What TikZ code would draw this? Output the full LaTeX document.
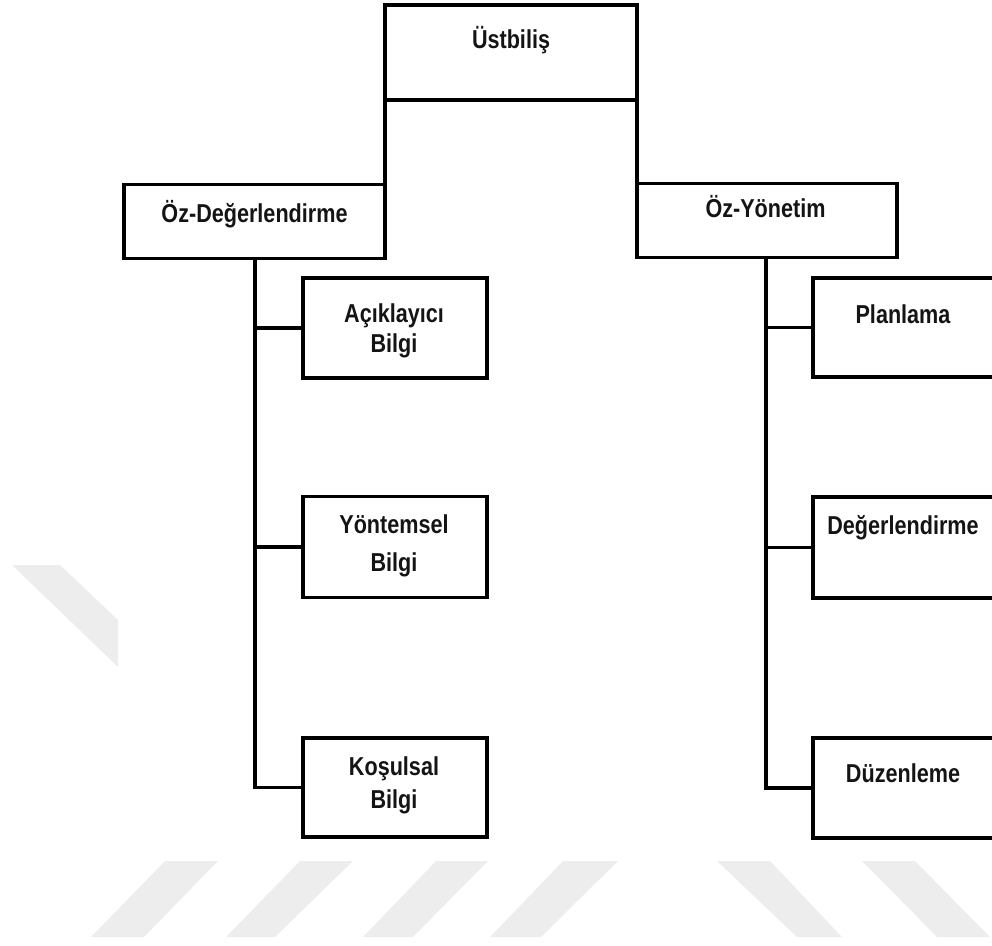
\documentclass[tikz,border=0pt]{standalone}
\usepackage{fontspec}
\setmainfont{Liberation Sans}
% taller, narrow-looking lettering
\newcommand{\tallword}[1]{\scalebox{1}[1.2]{#1}}
\begin{document}
\begin{tikzpicture}[x=1pt,y=-1pt,
  box/.style={draw=black, line width=3.5pt, rectangle, inner sep=0pt, outer sep=0pt},
  wire/.style={draw=black, line width=3.5pt, line cap=rect, line join=miter},
  txt/.style={font=\bfseries\fontsize{21.6}{26}\selectfont, anchor=base, inner sep=0pt, text=black!92},
  band/.style={fill=black!7, draw=none}]
\useasboundingbox (0,0) rectangle (992,945);
\clip (0,0) rectangle (992,945);

% light background stripes
\fill[band] (12,565) -- (60,565) -- (118,620) -- (118,667) -- cycle;
\fill[band] (165,861) -- (218,861) -- (144,937) -- (91,937) -- cycle;
\fill[band] (300,861) -- (353,861) -- (275,937) -- (226,937) -- cycle;
\fill[band] (436,861) -- (488,861) -- (413,937) -- (363,937) -- cycle;
\fill[band] (563,861) -- (618,861) -- (541,937) -- (490,937) -- cycle;
\fill[band] (717,861) -- (770,861) -- (842,937) -- (797,937) -- cycle;
\fill[band] (862,861) -- (915,861) -- (990,937) -- (937,937) -- cycle;

% boxes
\node[box, minimum width=252pt, minimum height=95pt] (top) at (511,52.5) {};
\node[box, minimum width=261pt, minimum height=74pt] (oz1) at (254.5,221.5) {};
\node[box, minimum width=260pt, minimum height=74pt] (oz2) at (767,220.5) {};

\node[box, minimum width=184pt, minimum height=100pt] (l1) at (395,328) {};
\node[box, minimum width=184pt, minimum height=101pt] (l2) at (395,547) {};
\node[box, minimum width=184pt, minimum height=99pt] (l3) at (395,787.5) {};

\node[box, minimum width=184pt, minimum height=99pt] (r1) at (905,327.5) {};
\node[box, minimum width=184pt, minimum height=101pt] (r2) at (905,547.5) {};
\node[box, minimum width=184pt, minimum height=100pt] (r3) at (905,788) {};

% trunk lines
\coordinate (lt) at (255,0);
\coordinate (rt) at (766,0);

\draw[wire] (top.south west) -- (oz1.north east);
\draw[wire] (top.south east) -- (oz2.north west);

\draw[wire] (oz1.south -| lt) -- (l3.west -| lt) -- (l3.west);
\draw[wire] (l1.west -| lt) -- (l1.west);
\draw[wire] (l2.west -| lt) -- (l2.west);

\draw[wire] (oz2.south -| rt) -- (r3.west -| rt) -- (r3.west);
\draw[wire] (r1.west -| rt) -- (r1.west);
\draw[wire] (r2.west -| rt) -- (r2.west);

% labels
\node[txt] (t0) at (511,48) {\tallword{Üstbiliş}};
\node[txt] (t1) at (254.5,222) {\tallword{Öz-Değerlendirme}};
\node[txt] (t2) at (765.5,217) {\tallword{Öz-Yönetim}};

\node[txt] (t3a) at (394,322) {\tallword{Açıklayıcı}};
\node[txt] (t3b) at (394,352) {\tallword{Bilgi}};
\node[txt] (t4a) at (394,533) {\tallword{Yöntemsel}};
\node[txt] (t4b) at (394,571) {\tallword{Bilgi}};
\node[txt] (t5a) at (394,775) {\tallword{Koşulsal}};
\node[txt] (t5b) at (394,808) {\tallword{Bilgi}};

\node[txt] (t6) at (903,323) {\tallword{Planlama}};
\node[txt] (t7) at (903,534) {\tallword{Değerlendirme}};
\node[txt] (t8) at (903,782) {\tallword{Düzenleme}};
\end{tikzpicture}
\end{document}
